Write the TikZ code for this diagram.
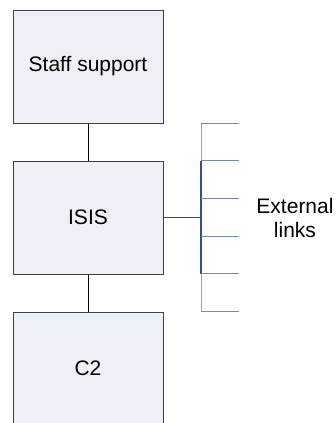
\documentclass[tikz,border=0pt]{standalone}
\usepackage{fontspec}
\setmainfont{Liberation Sans}
\usetikzlibrary{calc}
\definecolor{boxfill}{HTML}{EDF0F6}
\definecolor{busdark}{HTML}{2E4F8C}
\definecolor{buslight}{HTML}{8FA3C8}
\definecolor{branch}{HTML}{6F8AB8}

\begin{document}
\begin{tikzpicture}[x=1pt, y=-1pt,
        unitbox/.style={draw=black!75, fill=boxfill, line width=1pt,
            minimum width=150pt, minimum height=113pt,
            font=\fontsize{21}{25}\selectfont}]
        % Frame
        \useasboundingbox (0,0) rectangle (335,423);
        \clip (0,0) rectangle (335,423);

        % Unit boxes
        \node[unitbox] (staff) at (88, 66.5) {Staff support};
        \node[unitbox] (isis) at (88, 217.5) {ISIS};
        \node[unitbox] (c2) at (88, 368.5) {C2};

        % Vertical links
        \draw[line width=1pt] (staff.south) -- (isis.north);
        \draw[line width=1pt] (isis.south) -- (c2.north);

        % Bus for external links
        \coordinate (bustop) at (201, 123);
        \coordinate (busbot) at (201, 311);
        \coordinate (bus) at (201, 217.5);
        \draw[buslight, line width=1pt] (bustop) -- (busbot);
        \draw[busdark, line width=1.3pt] (201, 161) -- (201, 274);
        \draw[busdark, line width=1pt] (isis.east) -- (bus);

        % Branches
        \foreach \y in {123, 160.5, 198, 236, 273.5, 311}
            \draw[branch, line width=1pt] (201, \y) -- (239, \y);

        % Label
        \node[align=center, font=\fontsize{21}{24}\selectfont] (ext) at (295, 218) {External\\links};
    \end{tikzpicture}
\end{document}
